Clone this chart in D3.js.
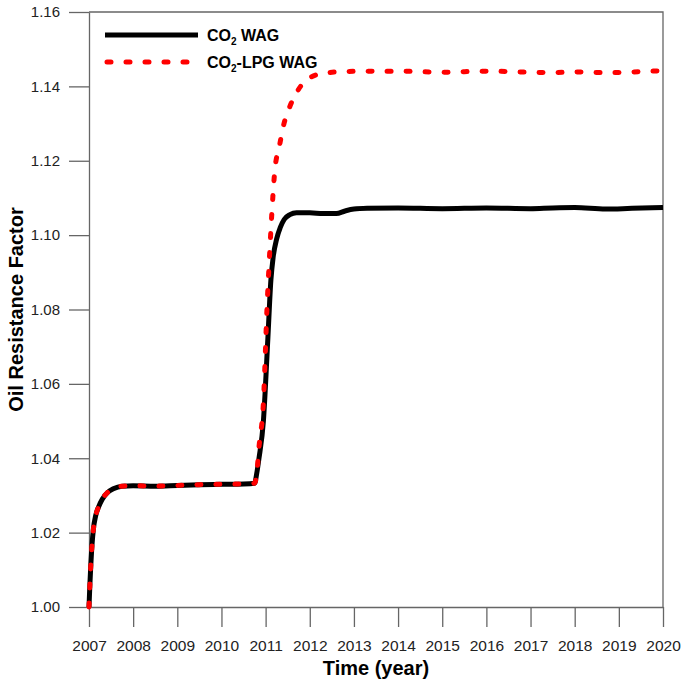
<!DOCTYPE html>
<html>
<head>
<meta charset="utf-8">
<script src="https://cdn.jsdelivr.net/npm/d3@7"></script>
<style>
    body { margin: 0; background: #fff; }
    text { font-family: "Liberation Sans", Arial, sans-serif; }
</style>
</head>
<body>
<div id="chart"></div>
<script>
// decimal years and oil resistance factor
const co2Years = [2007.00, 2007.02, 2007.04, 2007.07, 2007.10, 2007.15, 2007.22, 2007.30, 2007.42, 2007.55, 2007.75,
    2008.0, 2008.5, 2009.0, 2009.5, 2010.0, 2010.5, 2010.75, 2010.80, 2010.85, 2010.95, 2011.05, 2011.12, 2011.17,
    2011.25, 2011.33, 2011.42, 2011.55, 2011.7, 2012.0, 2012.3, 2012.6, 2012.8, 2013.0, 2013.3, 2014.0, 2015.0,
    2016.0, 2017.0, 2017.5, 2018.0, 2018.7, 2019.3, 2020.0];
const co2Values = [1.000, 1.006, 1.011, 1.017, 1.021, 1.0245, 1.027, 1.029, 1.0308, 1.0318, 1.0325,
    1.0326, 1.0325, 1.0327, 1.0329, 1.0330, 1.0331, 1.0333, 1.036, 1.040, 1.050, 1.072, 1.088, 1.094,
    1.099, 1.1020, 1.1042, 1.1055, 1.1060, 1.1060, 1.1058, 1.1058, 1.1065, 1.1070, 1.1072, 1.1073, 1.1071,
    1.1073, 1.1071, 1.1073, 1.1074, 1.1070, 1.1072, 1.1074];

const lpgYears = [2007.00, 2007.02, 2007.04, 2007.07, 2007.10, 2007.15, 2007.22, 2007.30, 2007.42, 2007.55, 2007.75,
    2008.0, 2008.5, 2009.0, 2009.5, 2010.0, 2010.5, 2010.75, 2010.80, 2010.85, 2010.95, 2011.03, 2011.10, 2011.15,
    2011.21, 2011.31, 2011.40, 2011.55, 2011.74, 2012.04, 2012.42, 2012.83, 2013.5, 2014.0, 2015.0, 2016.0,
    2017.0, 2017.5, 2018.0, 2018.5, 2019.0, 2019.5, 2020.0];
const lpgValues = [1.000, 1.006, 1.011, 1.017, 1.021, 1.0245, 1.027, 1.029, 1.0308, 1.0318, 1.0325,
    1.0326, 1.0325, 1.0327, 1.0329, 1.0330, 1.0331, 1.0333, 1.036, 1.043, 1.055, 1.080, 1.097, 1.1077,
    1.1176, 1.1238, 1.1292, 1.1346, 1.1391, 1.1426, 1.1437, 1.1440, 1.1441, 1.1441, 1.1438, 1.1441,
    1.1438, 1.1437, 1.1439, 1.1437, 1.1437, 1.1440, 1.1442];

const xTicks = [2007, 2008, 2009, 2010, 2011, 2012, 2013, 2014, 2015, 2016, 2017, 2018, 2019, 2020];
const yTicks = [1.00, 1.02, 1.04, 1.06, 1.08, 1.10, 1.12, 1.14, 1.16];

const seriesNames = ["CO2 WAG", "CO2-LPG WAG"];

let chart = {
    width: 685,
    height: 686,
    left: 89,
    right: 663,
    top: 12,
    bottom: 607
}

var svg = d3.select("#chart")
    .append("svg")
    .attr("width", chart.width)
    .attr("height", chart.height);

var xscale = d3.scaleLinear().domain([2007, 2020]).range([chart.left, chart.right]);
var yscale = d3.scaleLinear().domain([1.00, 1.16]).range([chart.bottom, chart.top]);

// x axis
var xaxis = svg.append("g")
    .attr("transform", "translate(0," + chart.bottom + ")")
    .call(d3.axisBottom(xscale)
        .tickValues(xTicks)
        .tickFormat(d3.format("d"))
        .tickSize(20)
        .tickSizeOuter(0)
        .tickPadding(13));
xaxis.selectAll("text").style("font-size", "15.5px").style("fill", "#222");
xaxis.selectAll("line, path").attr("stroke", "#666").attr("stroke-width", 1.3);

// y axis
var yaxis = svg.append("g")
    .attr("transform", "translate(" + chart.left + ",0)")
    .call(d3.axisLeft(yscale)
        .tickValues(yTicks)
        .tickFormat(d3.format(".2f"))
        .tickSize(20)
        .tickSizeOuter(0)
        .tickPadding(9));
yaxis.selectAll("text").style("font-size", "15px").style("fill", "#222");
yaxis.selectAll("line, path").attr("stroke", "#666").attr("stroke-width", 1.3);

// top and right frame
svg.append("path")
    .attr("d", "M" + chart.left + "," + chart.top + "H" + chart.right + "V" + chart.bottom)
    .attr("fill", "none")
    .attr("stroke", "#666")
    .attr("stroke-width", 1.3);

// axis titles
svg.append("text")
    .attr("x", (chart.left + chart.right) / 2)
    .attr("y", 675)
    .attr("text-anchor", "middle")
    .style("font-size", "20px")
    .style("font-weight", "bold")
    .text("Time (year)");

svg.append("text")
    .attr("transform", "translate(23," + (chart.top + chart.bottom) / 2 + ") rotate(-90)")
    .attr("text-anchor", "middle")
    .style("font-size", "20px")
    .style("font-weight", "bold")
    .text("Oil Resistance Factor");

var line = d3.line()
    .x(d => xscale(d[0]))
    .y(d => yscale(d[1]))
    .curve(d3.curveMonotoneX);

var co2Data = co2Years.map((y, i) => [y, co2Values[i]]);
var lpgData = lpgYears.map((y, i) => [y, lpgValues[i]]);

svg.append("path")
    .datum(co2Data)
    .attr("fill", "none")
    .attr("stroke", "#000")
    .attr("stroke-width", 5)
    .attr("stroke-linejoin", "round")
    .attr("d", line);

svg.append("path")
    .datum(lpgData)
    .attr("fill", "none")
    .attr("stroke", "#f00")
    .attr("stroke-width", 5)
    .attr("stroke-linecap", "round")
    .attr("stroke-dasharray", "4,15")
    .attr("d", line);

// legend
var legend = svg.append("g");
var legendRows = [
    { name: seriesNames[0], y: 35, color: "#000", dash: null, sub: " WAG" },
    { name: seriesNames[1], y: 62, color: "#f00", dash: "4,15", sub: "-LPG WAG" }
];
legendRows.forEach(r => {
    legend.append("line")
        .attr("x1", r.dash ? 107 : 105)
        .attr("x2", r.dash ? 190 : 198)
        .attr("y1", r.y)
        .attr("y2", r.y)
        .attr("stroke", r.color)
        .attr("stroke-width", 5)
        .attr("stroke-linecap", r.dash ? "round" : "butt")
        .attr("stroke-dasharray", r.dash);
    var t = legend.append("text")
        .attr("x", 207)
        .attr("y", r.y)
        .attr("dy", "0.36em")
        .style("font-size", "16px")
        .style("font-weight", "bold");
    t.append("tspan").text("CO");
    t.append("tspan").attr("dy", 4).style("font-size", "10px").text("2");
    t.append("tspan").attr("dy", -4).text(r.sub);
});
</script>
</body>
</html>
